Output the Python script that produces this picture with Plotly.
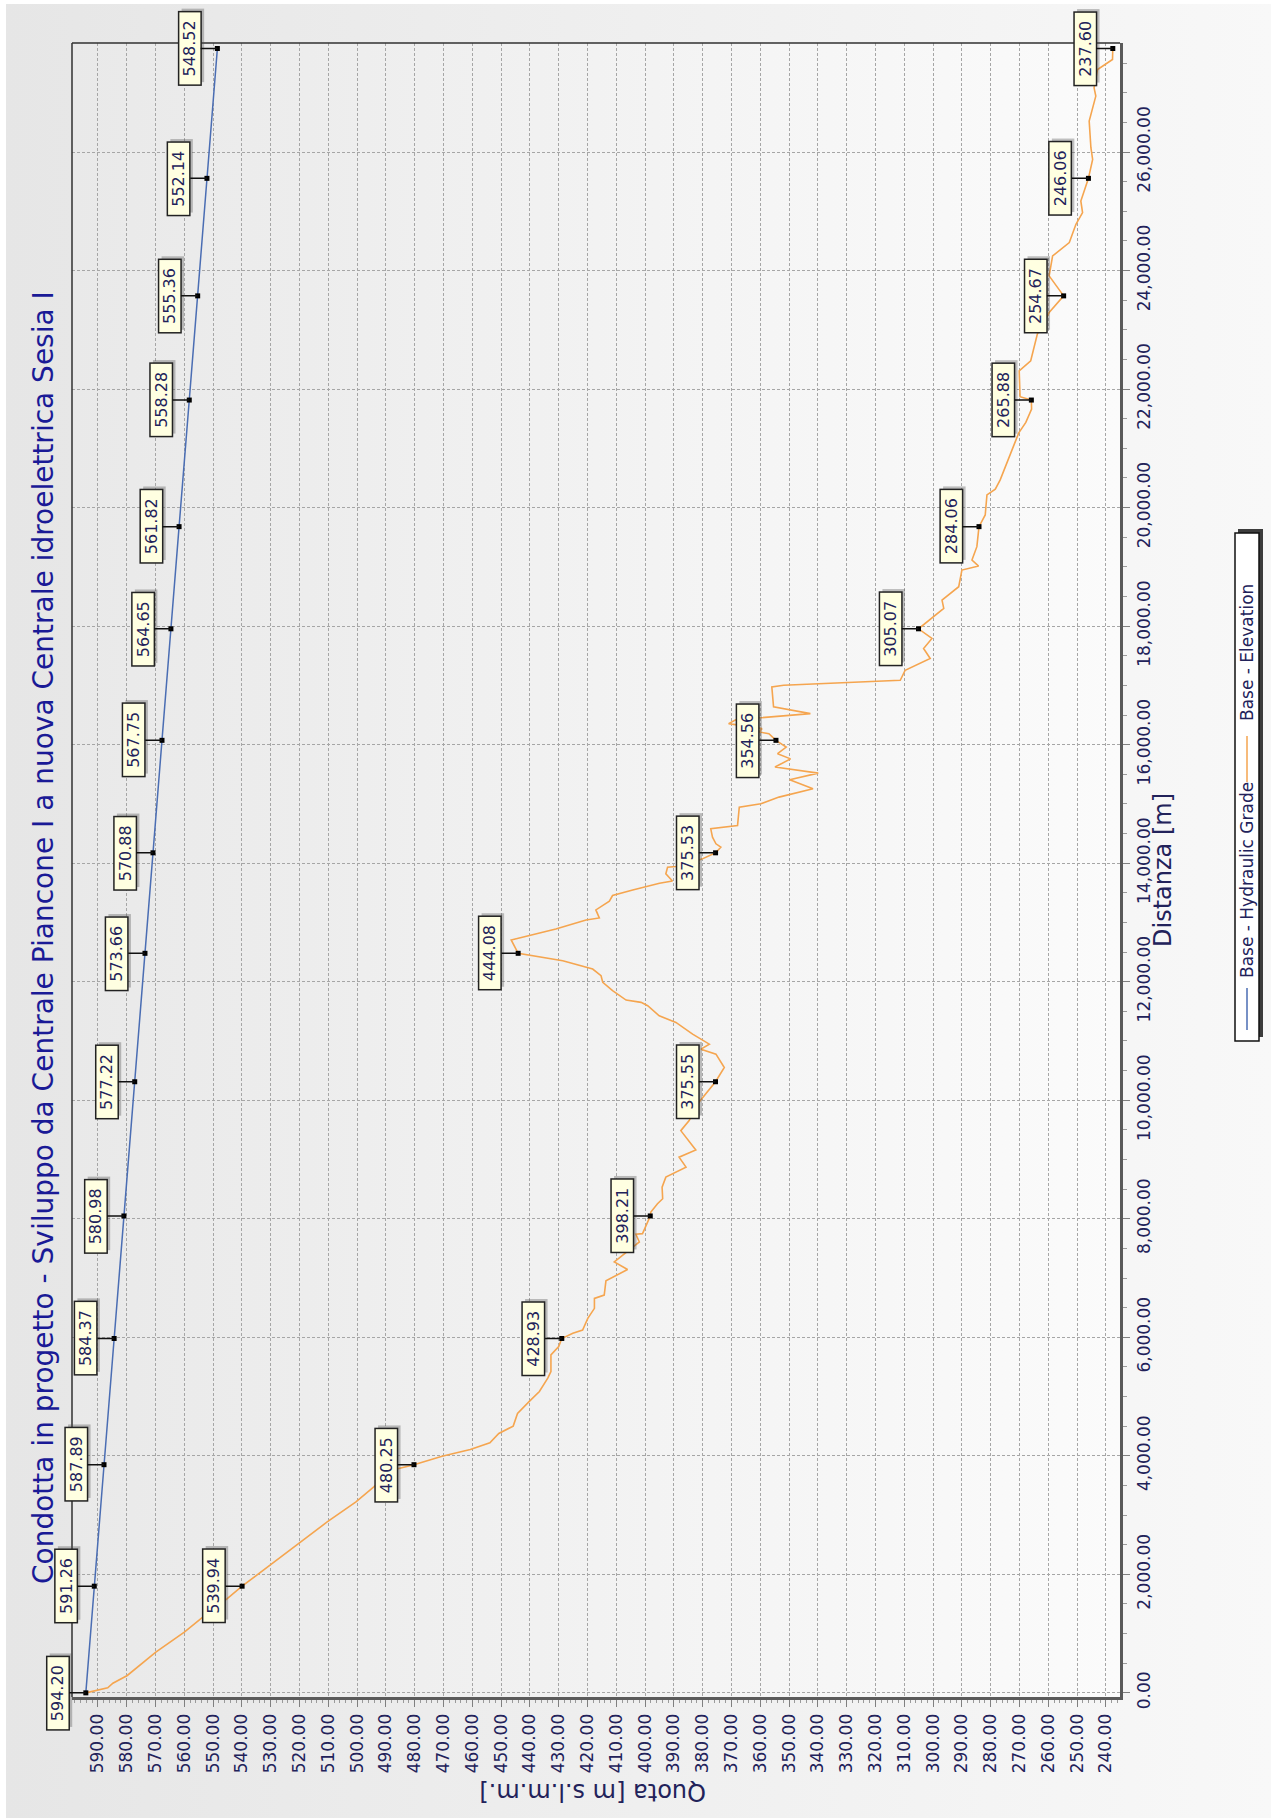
import base64
import plotly.graph_objects as go

# Labelled nodes along the pipeline (progressive distance, m)
node_dist = [0, 1800, 3850, 5980, 8047, 10312, 12479, 14175, 16073, 17955,
             19679, 21815, 23573, 25556, 27747]
hydraulic_grade = [594.20, 591.26, 587.89, 584.37, 580.98, 577.22, 573.66, 570.88,
                   567.75, 564.65, 561.82, 558.28, 555.36, 552.14, 548.52]
node_elevation = [594.20, 539.94, 480.25, 428.93, 398.21, 375.55, 444.08, 375.53,
                  354.56, 305.07, 284.06, 265.88, 254.67, 246.06, 237.60]

# Intermediate ground-profile vertices between the labelled nodes
ground_dist = [85, 163, 293, 687, 1025, 1268, 1589, 2023, 2163, 2518, 2884, 3223, 3476,
               3758, 3994, 4107, 4220, 4377, 4501, 4715, 4918, 5086, 5310, 5423, 5703,
               5843, 6067, 6123, 6320, 6488, 6656, 6712, 6953, 7144, 7273, 7609, 7738,
               7749, 8114, 8254, 8338, 8534, 8703, 8871, 9039, 9162, 9487, 9656, 9936,
               10104, 10552, 10777, 10862, 10946, 11115, 11313, 11425, 11594, 11651,
               11690, 11848, 11989, 12101, 12214, 12355, 12704, 12777, 12890, 13042,
               13076, 13211, 13358, 13454, 13549, 13662, 13700, 13820, 13932, 13944,
               14017, 14073, 14270, 14327, 14439, 14580, 14637, 14946, 15003, 15115,
               15256, 15408, 15520, 15622, 15760, 15848, 15960, 16186, 16214, 16270,
               16355, 16420, 16524, 16637, 16975, 17003, 17087, 17256, 17454, 17622,
               17792, 18073, 18299, 18439, 18665, 18946, 19014, 19115, 19341, 19876,
               20214, 20310, 20468, 21256, 21438, 21663, 21871, 22309, 22478, 22927,
               23292, 23910, 24247, 24472, 24781, 24978, 25174, 25876, 26073, 26522,
               26944, 27084, 27393, 27562]
ground_elev = [586.6, 584.8, 579.8, 569.9, 560.0, 553.8, 545.1, 533.9, 530.2, 520.3, 510.4,
               500.4, 494.2, 488.0, 470.5, 460.7, 453.9, 450.8, 445.8, 444.3, 440.2, 436.7,
               433.8, 432.7, 432.7, 430.0, 425.1, 421.7, 419.9, 417.6, 417.6, 414.2, 413.6,
               406.1, 410.7, 402.0, 403.2, 400.9, 398.0, 395.7, 393.9, 394.1, 392.8, 385.8,
               388.2, 382.4, 387.6, 384.7, 381.8, 378.9, 372.5, 375.4, 380.6, 377.7, 383.5,
               389.3, 395.1, 399.1, 401.4, 406.6, 411.3, 414.7, 415.3, 418.2, 428.6, 446.5,
               440.2, 431.0, 420.5, 415.9, 417.1, 412.4, 411.3, 404.3, 395.0, 390.5, 392.8,
               392.2, 389.3, 383.5, 380.1, 373.7, 375.4, 376.6, 377.2, 367.9, 367.3, 359.8,
               353.5, 341.7, 349.8, 339.9, 354.9, 349.5, 354.0, 351.0, 357.0, 360.4, 359.4,
               371.0, 368.5, 342.6, 355.4, 356.0, 351.9, 311.4, 309.7, 301.0, 303.3, 300.4,
               302.1, 296.3, 296.9, 291.1, 290.0, 284.2, 286.5, 284.8, 281.9, 281.3, 278.4,
               276.7, 270.3, 267.8, 265.8, 269.8, 270.1, 266.1, 263.8, 259.7, 259.7, 258.5,
               252.7, 250.4, 248.1, 248.7, 244.6, 245.2, 245.8, 243.5, 244.1, 242.9, 237.7]

title_text = "Condotta in progetto - Sviluppo da Centrale Piancone I a nuova Centrale idroelettrica Sesia I"
series_names = ["Base - Hydraulic Grade", "Base - Elevation"]

# ---- page geometry (pixels) ----
FIG_W, FIG_H = 1271, 1818
PL, PR, PT, PB = 72, 1120, 43, 1697
W, H = PR - PL, PB - PT


def px(X):
    return (X - PL) / W


def py(Y):
    return (PB - Y) / H


def gradient(c1, c2):
    svg = ('<svg xmlns="http://www.w3.org/2000/svg" width="100" height="100" '
           'viewBox="0 0 100 100" preserveAspectRatio="none"><defs>'
           '<linearGradient id="g" x1="0" y1="0" x2="1" y2="0">'
           f'<stop offset="0" stop-color="{c1}"/><stop offset="1" stop-color="{c2}"/>'
           '</linearGradient></defs><rect width="100" height="100" fill="url(#g)"/></svg>')
    return "data:image/svg+xml;base64," + base64.b64encode(svg.encode()).decode()


# merge nodes and intermediate vertices into one ground profile
profile = sorted(zip(ground_dist + node_dist, ground_elev + node_elevation))
profile_dist = [p[0] for p in profile]
profile_elev = [p[1] for p in profile]

BLUE = "#4a6db3"
ORANGE = "#f5a54f"
TXT = "#22225a"
FONT = "DejaVu Sans"

fig = go.Figure()
fig.add_trace(go.Scatter(x=hydraulic_grade, y=node_dist, mode="lines",
                         line=dict(color=BLUE, width=1.5), name=series_names[0],
                         showlegend=False))
fig.add_trace(go.Scatter(x=profile_elev, y=profile_dist, mode="lines",
                         line=dict(color=ORANGE, width=1.6), name=series_names[1],
                         showlegend=False))
fig.add_trace(go.Scatter(x=hydraulic_grade + node_elevation[1:],
                         y=node_dist + node_dist[1:], mode="markers",
                         marker=dict(symbol="square", size=5, color="black"),
                         showlegend=False, hoverinfo="skip"))

annotations = []
# value labels: shadows first, then the yellow boxes with leader lines
label_pts = list(zip(hydraulic_grade, node_dist)) + list(zip(node_elevation[1:], node_dist[1:]))
OFF = -28
for v, d in label_pts:
    annotations.append(dict(x=v, y=d, xref="x", yref="y", text=f"{v:.2f}", showarrow=False,
                            xanchor="center", yanchor="middle", xshift=OFF + 3, yshift=3,
                            textangle=-90, width=70, height=19, borderpad=1, borderwidth=1.5,
                            bgcolor="rgba(80,80,80,0.35)", bordercolor="rgba(0,0,0,0)",
                            font=dict(family=FONT, size=16, color="rgba(0,0,0,0)")))
for v, d in label_pts:
    annotations.append(dict(x=v, y=d, xref="x", yref="y", text=f"{v:.2f}", showarrow=True,
                            arrowhead=0, arrowwidth=1.5, arrowcolor="#111111", ax=OFF, ay=0,
                            standoff=0, textangle=-90, width=70, height=19, borderpad=1,
                            borderwidth=1.5, bgcolor="#ffffe1", bordercolor="#222222",
                            font=dict(family=FONT, size=16, color=TXT)))

# title and axis titles
annotations.append(dict(xref="paper", yref="paper", x=px(43), y=py(938), text=title_text,
                        showarrow=False, textangle=-90, xanchor="center", yanchor="middle",
                        font=dict(family=FONT, size=28, color="#1a1a96")))
annotations.append(dict(xref="paper", yref="paper", x=px(593), y=py(1792),
                        text="Quota [m s.l.m.m.]", showarrow=False, textangle=180,
                        xanchor="center", yanchor="middle",
                        font=dict(family=FONT, size=24, color=TXT)))
annotations.append(dict(xref="paper", yref="paper", x=px(1163), y=py(870),
                        text="Distanza [m]", showarrow=False, textangle=-90,
                        xanchor="center", yanchor="middle",
                        font=dict(family=FONT, size=24, color=TXT)))

# legend (vertical, drawn by hand)
LX = 1247
annotations.append(dict(xref="paper", yref="paper", x=px(LX), y=py(880), text=series_names[0],
                        showarrow=False, textangle=-90, xanchor="center", yanchor="middle",
                        font=dict(family=FONT, size=17, color=TXT)))
annotations.append(dict(xref="paper", yref="paper", x=px(LX), y=py(653), text=series_names[1],
                        showarrow=False, textangle=-90, xanchor="center", yanchor="middle",
                        font=dict(family=FONT, size=17, color=TXT)))

shapes = [
    # plot frame: thin top and left edges
    dict(type="line", xref="paper", yref="paper", x0=0, x1=1, y0=1, y1=1,
         line=dict(color="#303030", width=1.5)),
    dict(type="line", xref="paper", yref="paper", x0=0, x1=0, y0=0, y1=1,
         line=dict(color="#303030", width=1.5)),
    # legend box with shadow
    dict(type="rect", xref="paper", yref="paper", x0=px(1238), x1=px(1263), y0=py(1037),
         y1=py(529), fillcolor="#3c3c3c", line=dict(width=0)),
    dict(type="rect", xref="paper", yref="paper", x0=px(1235), x1=px(1259), y0=py(1041),
         y1=py(533), fillcolor="white", line=dict(color="#111111", width=1.5)),
    dict(type="line", xref="paper", yref="paper", x0=px(LX), x1=px(LX), y0=py(1030),
         y1=py(988), line=dict(color=BLUE, width=1.5)),
    dict(type="line", xref="paper", yref="paper", x0=px(LX), x1=px(LX), y0=py(782),
         y1=py(736), line=dict(color=ORANGE, width=1.5)),
]

images = [
    dict(source=gradient("#e6e6e6", "#f8f8f8"), xref="paper", yref="paper",
         x=px(6), y=py(4), sizex=(FIG_W - 6) / W, sizey=(FIG_H - 4) / H,
         xanchor="left", yanchor="top", sizing="stretch", layer="below"),
    dict(source=gradient("#e9e9e9", "#fbfbfb"), xref="paper", yref="paper",
         x=0, y=1, sizex=1, sizey=1, xanchor="left", yanchor="top",
         sizing="stretch", layer="below"),
]

grid = dict(showgrid=True, gridcolor="#a6a6a6", gridwidth=1, griddash="3px,2px")

fig.update_layout(
    width=FIG_W, height=FIG_H,
    margin=dict(l=PL, r=FIG_W - PR, t=PT, b=FIG_H - PB, pad=0),
    paper_bgcolor="white", plot_bgcolor="rgba(0,0,0,0)",
    showlegend=False,
    annotations=annotations, shapes=shapes, images=images,
    xaxis=dict(range=[599.0, 235.1], tickmode="linear", tick0=240, dtick=10,
               tickformat=".2f", tickangle=-90, ticks="outside", ticklen=7,
               tickcolor="#808080", showline=True, linewidth=3, linecolor="#5a5a5a",
               zeroline=False,
               minor=dict(dtick=2, ticks="outside", ticklen=3, tickcolor="#9a9a9a",
                          showgrid=False),
               tickfont=dict(family=FONT, size=17, color=TXT), **grid),
    yaxis=dict(range=[-70, 27840], side="right", tickmode="linear", tick0=0, dtick=2000,
               tickformat=",.2f", tickangle=-90, ticks="outside", ticklen=7,
               tickcolor="#808080", showline=True, linewidth=3, linecolor="#5a5a5a",
               zeroline=False,
               minor=dict(dtick=500, ticks="outside", ticklen=4, tickcolor="#9a9a9a",
                          showgrid=False),
               tickfont=dict(family=FONT, size=17, color=TXT), **grid),
)

fig.write_html("out.html")
